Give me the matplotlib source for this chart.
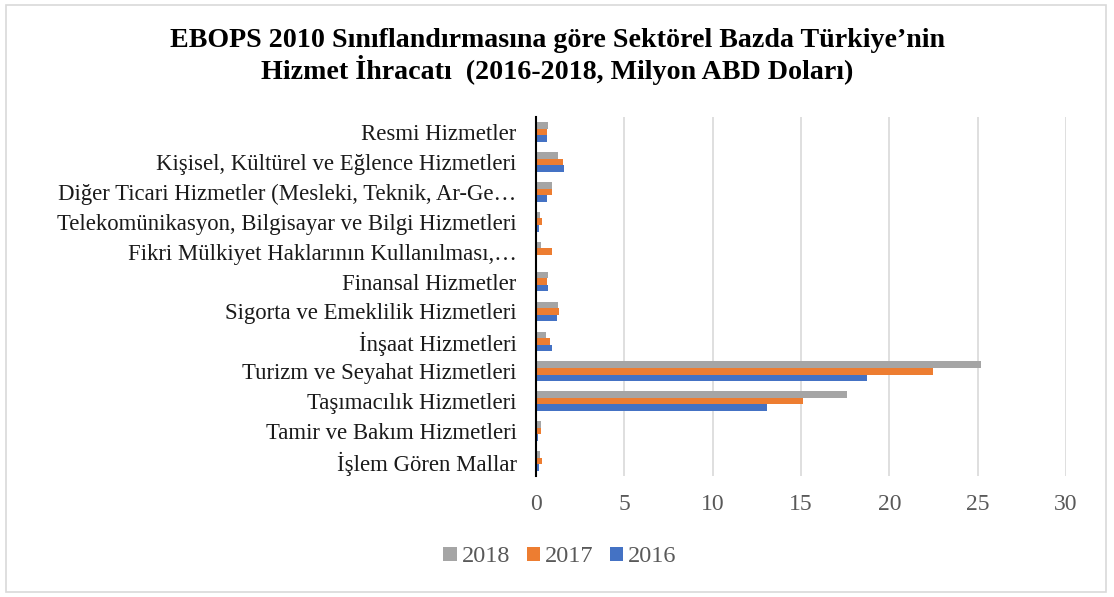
import numpy as np
import matplotlib
matplotlib.use("Agg")
from matplotlib import pyplot as plt
from matplotlib.patches import Rectangle

# categories listed bottom to top
categories = [
    "İşlem Gören Mallar",
    "Tamir ve Bakım Hizmetleri",
    "Taşımacılık Hizmetleri",
    "Turizm ve Seyahat Hizmetleri",
    "İnşaat Hizmetleri",
    "Sigorta ve Emeklilik Hizmetleri",
    "Finansal Hizmetler",
    "Fikri Mülkiyet Haklarının Kullanılması,…",
    "Telekomünikasyon, Bilgisayar ve Bilgi Hizmetleri",
    "Diğer Ticari Hizmetler (Mesleki, Teknik, Ar-Ge…",
    "Kişisel, Kültürel ve Eğlence Hizmetleri",
    "Resmi Hizmetler",
]
v2016 = [0.17, 0.10, 13.10, 18.72, 0.92, 1.17, 0.68, 0.05, 0.15, 0.60, 1.60, 0.60]
v2017 = [0.32, 0.28, 15.10, 22.45, 0.81, 1.30, 0.64, 0.90, 0.32, 0.89, 1.51, 0.60]
v2018 = [0.23, 0.30, 17.58, 25.20, 0.55, 1.26, 0.66, 0.30, 0.23, 0.92, 1.26, 0.66]
xticks = [0, 5, 10, 15, 20, 25, 30]

plt.rcParams['font.family'] = ['Liberation Serif', 'DejaVu Serif']

fig = plt.figure(figsize=(11.14, 5.97), dpi=100)
ax = fig.add_axes([536 / 1114, 1 - 476 / 597, 530 / 1114, 359 / 597])

y = np.arange(len(categories))
h = 0.22
ax.barh(y - h, v2016, height=h, color='#4472C4', label='2016')
ax.barh(y, v2017, height=h, color='#ED7D31', label='2017')
ax.barh(y + h, v2018, height=h, color='#A5A5A5', label='2018')

ax.set_xlim(0, 30)
ax.set_ylim(-0.5, len(categories) - 0.5)
ax.set_xticks(xticks)
ax.set_yticks(y)
ax.set_yticklabels(categories, fontsize=16.4, color='#1a1a1a')
ax.tick_params(axis='x', labelsize=17, labelcolor='#595959', length=0, pad=13)
ax.tick_params(axis='y', length=0, pad=14)
ax.xaxis.grid(True, color='#d9d9d9', linewidth=1.2)
ax.set_axisbelow(True)
for s in ['top', 'right', 'bottom']:
    ax.spines[s].set_visible(False)
ax.spines['left'].set_color('black')
ax.spines['left'].set_linewidth(1.5)

fig.suptitle("EBOPS 2010 Sınıflandırmasına göre Sektörel Bazda Türkiye’nin\n"
             "Hizmet İhracatı  (2016-2018, Milyon ABD Doları)",
             fontsize=20.2, fontweight='bold', y=1 - 28 / 597, va='top',
             x=557 / 1114, linespacing=1.1)

handles, labels = ax.get_legend_handles_labels()
leg = fig.legend(handles[::-1], labels[::-1], loc='center', ncol=3,
                 bbox_to_anchor=(560 / 1114, 1 - 557 / 597), frameon=False,
                 fontsize=17.5, handlelength=0.55, handleheight=0.55,
                 handletextpad=0.2, columnspacing=0.68)
for t in leg.get_texts():
    t.set_color('#595959')

fig.patches.append(Rectangle((6 / 1114, 5 / 597), 1100 / 1114, 587 / 597,
                             transform=fig.transFigure, fill=False,
                             edgecolor='#d9d9d9', linewidth=1.2))

fig.savefig("out.png", dpi=100)
